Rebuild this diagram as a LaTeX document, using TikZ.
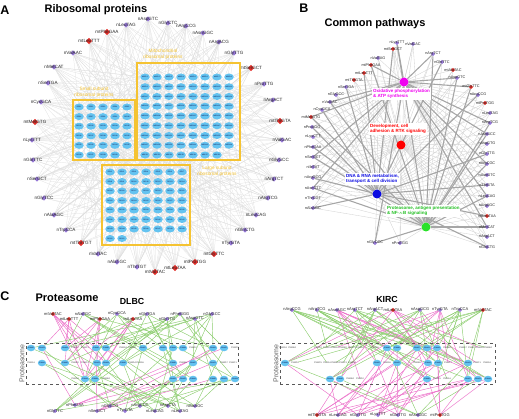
\documentclass[tikz,border=0pt]{standalone}
\usepackage{fontspec}
\setmainfont{Liberation Sans}
\usetikzlibrary{positioning,shapes.geometric,backgrounds}
\definecolor{codpurple}{RGB}{150,120,215}
\definecolor{codred}{RGB}{225,45,40}
\definecolor{geneblue}{RGB}{100,195,240}
\definecolor{boxgold}{RGB}{245,195,50}
\definecolor{hubmag}{RGB}{240,0,240}
\definecolor{hubblue}{RGB}{10,10,225}
\definecolor{hubgreen}{RGB}{40,225,40}
\definecolor{lgreen}{RGB}{140,205,110}
\definecolor{lpink}{RGB}{235,110,200}
\newcommand{\psmnames}{{"PSMA1","PSMB2","PSMC3","PSMD4","PSMA5","PSMB6","PSMD7","PSMC1","PSMA3","PSMB4","PSMD2","PSMC5"}}

\begin{document}
\begin{tikzpicture}[x=1pt,y=-1pt,
  plab/.style={font=\fontsize{12.5}{13}\selectfont\bfseries,inner sep=0pt},
  ttl/.style={font=\fontsize{11}{12}\selectfont\bfseries,inner sep=0pt},
  stl/.style={font=\fontsize{8.8}{9}\selectfont\bfseries,inner sep=0pt},
  codp/.style={diamond,fill=codpurple,inner sep=0pt,minimum size=5.5pt},
  codr/.style={diamond,fill=codred,inner sep=0pt,minimum size=6.5pt},
  clab/.style={inner sep=0pt,text=black!85,font=\fontsize{4.6}{5}\selectfont},
  blab/.style={clab,font=\fontsize{3.8}{4}\selectfont},
  dlab/.style={clab,font=\fontsize{4}{4.5}\selectfont},
  gene/.style={ellipse,fill=geneblue,inner sep=0pt,minimum width=9.5pt,minimum height=7pt,text=blue!25!black,font=\fontsize{1.7}{2}\selectfont},
  gtxt/.style={inner sep=0pt,text=black!75,font=\fontsize{2.2}{2.5}\selectfont},
  ybox/.style={draw=boxgold,line width=1.1pt},
  ytxt/.style={text=boxgold,align=center,inner sep=0pt,font=\fontsize{4.8}{5.6}\selectfont},
  hub/.style={circle,inner sep=0pt,minimum size=9pt},
  hlab/.style={fill=white,align=left,anchor=north west,inner sep=0.8pt,font=\fontsize{4.5}{5.6}\selectfont\bfseries},
  aedge/.style={gray!26,line width=0.25pt},
  bthin/.style={gray!35,line width=0.35pt},
  bthick/.style={gray!70,line width=1.1pt},
  gline/.style={lgreen,line width=0.45pt},
  pline/.style={lpink,line width=0.45pt},
  cbox/.style={draw=gray!70!black,dashed,line width=0.6pt,inner sep=0pt},
  cside/.style={rotate=90,text=gray!75!black,inner sep=0pt,font=\fontsize{7}{7}\selectfont}
]
\useasboundingbox (0,0) rectangle (519,419);

% A
\node[plab] (pa) at (5,10) {A};
\node[ttl] (ta) at (96,10) {Ribosomal proteins};

\foreach \nm/\x/\y/\s [count=\k] in {nAspGTC/148/19/codp,nGlyCTC/168/23/codp,nArgCCG/186/26/codp,nAsnGGC/203/33/codp,
  nArgACG/219/42/codp,nGlyTTG/234/53/codp,mtSerGCT/251/68/codr,nProTTG/264/84/codp,nArgACT/273/100/codp,
  mtThrGTA/280/121/codr,nValGAC/282/140/codp,nGlyGCC/279/160/codp,nArgTCT/274/179/codp,nArgTCG/268/198/codp,
  nLeuCAG/256/215/codp,nGlnCTG/245/230/codp,nTyrGTA/231/243/codp,mtGlyTTC/214/254/codr,mtProTGG/195/262/codr,
  mtLeuTAA/175/268/codr,mtValTAC/155/272/codr,nThrTGT/137/267/codp,nAlaTGC/117/262/codp,nValTAC/98/254/codp,
  mtThrTGT/81/243/codr,nTrpCCA/66/230/codp,nAlaAGC/54/215/codp,nGlyTCC/44/198/codp,nSerGCT/37/179/codp,
  nGlnTTC/33/160/codp,nLysTTT/32/140/codp,mtMetGTG/35/122/codr,nCysGCA/41/102/codp,nSerTGA/48/83/codp,
  nMetCAT/54/67/codp,nValAAC/73/53/codp,mtLeuTTT/89/41/codr,mtPheGAA/107/32/codr,nLeuTAG/126/25/codp}
  \node[\s,label={[clab]center:\nm}] (a\k) at (\x,\y) {};

\foreach \i in {0,...,7} \foreach \j in {0,...,7}
  \node[gene] (m\i-\j) at (145+12*\i,77+9.75*\j) {MRPL\the\numexpr\j*8+\i+1\relax};
\foreach \i in {0,...,6} \node[gene] (m\i-8) at (145+12*\i,155) {MRPS\the\numexpr\i+2\relax};
\foreach \i in {0,...,4} \foreach \j in {0,...,4}
  \node[gene] (s\i-\j) at (79+12*\i,107+9.6*\j) {RPS\the\numexpr\j*5+\i+1\relax};
\foreach \i in {0,...,3} \node[gene] (s\i-5) at (79+12*\i,155) {RPS\the\numexpr\i+26\relax};
\foreach \i in {0,...,6} \foreach \j in {0,...,6}
  \node[gene] (l\i-\j) at (110+12*\i,172+9.5*\j) {RPL\the\numexpr\j*7+\i+1\relax};
\foreach \i in {0,1} \node[gene] (l\i-7) at (110+12*\i,238.5) {RPL\the\numexpr\i+50\relax};

\draw[ybox] (137,63) rectangle (240,160);
\draw[ybox] (73,100) rectangle (135,160);
\draw[ybox] (102,165) rectangle (190,245);
\node[ytxt] (tm) at (163,54) {Mitochondrial\\ribosomal proteins};
\node[ytxt] (ts) at (94,92) {Small subunit\\ribosomal proteins};
\node[ytxt] (tl) at (217,171) {Large subunit\\ribosomal proteins};

% B
\node[plab] (pb) at (304,8) {B};
\node[ttl] (tb) at (375,24) {Common pathways};

\foreach \nm/\x/\y/\s [count=\k] in {nLysTTT/397/43/codp,nValCAC/413/44/codp,mtSerGCT/393/49/codr,nArgTCT/433/54/codp,
  nValTAG/378/58/codp,nGlnTTC/442/62/codp,mtPheGAA/371/65/codr,mtAlaTAC/453/70/codr,mtLeuTTT/364/73/codr,
  nAspGTC/457/78/codp,mtThrGTA/354/80/codr,nSerTGA/346/87/codp,mtGlyTTC/471/87/codr,nGlyGCC/336/95/codp,
  nArgCCG/478/95/codp,nValAAC/330/102/codp,mtProTGG/485/103/codr,nCysGCA/322/110/codp,mtMetGTG/311/117/codr,
  nLeuTAG/490/113/codp,nProAGG/312/127/codp,nArgTCG/490/123/codp,
  nLysCTT/313/137/codp,nPheGAA/313/147/codp,nSerGCT/313/157/codp,nIleTAT/313/167/codp,nArgGCG/313/178/codp,
  nAsnGTT/313/188/codp,nThrCGT/313/198/codp,nAlaAGC/313/208/codp,
  nAsnGCC/487/134/codp,nAspGTG/487/144/codp,nGlyTTG/487/154/codp,nArgCGC/487/164/codp,nAsnGTC/487/175/codp,
  nThrGTA/487/185/codp,nLeuCAG/487/196/codp,nArgAGC/487/206/codp,mtLeuTAA/487/216/codr,nMetCAT/487/227/codp,
  nArgACT/487/237/codp,nGlnCTG/487/247/codp,nGlyCCC/375/243/codp,nProTGG/400/243/codp}
  \node[\s,minimum size=4.5pt,label={[blab]center:\nm}] (b\k) at (\x,\y) {};

\node[hub,fill=hubmag] (hm) at (404,82) {};
\node[hub,fill=red] (hr) at (401,145) {};
\node[hub,fill=hubblue] (hb) at (377,194) {};
\node[hub,fill=hubgreen] (hg) at (426,227) {};
\node[hlab,text=hubmag] (lm) at (372,88) {Oxidative phosphorylation\\\& ATP synthesis};
\node[hlab,text=red] (lr) at (369,123) {Development, cell\\adhesion \& RTK signaling};
\node[hlab,text=hubblue] (lb) at (345,173) {DNA \& RNA metabolism,\\transport \& cell division};
\node[hlab,text=hubgreen!85!black] (lg) at (386,205) {Proteasome, antigen presentation\\\& NF-$\kappa$B signaling};

% C
\node[plab] (pc) at (5,296) {C};
\node[ttl] (tc) at (67,298) {Proteasome};
\node[stl] (sd) at (132,301) {DLBC};
\node[stl] (sk) at (387,299) {KIRC};
\node[cbox,minimum width=212pt,minimum height=41pt] (dbox) at (132,363.5) {};
\node[cside] (dside) at (22,363.5) {Proteasome};
\node[cbox,minimum width=215pt,minimum height=41pt] (kbox) at (387.5,363.5) {};
\node[cside] (kside) at (276,363.5) {Proteasome};

\foreach \x/\y [count=\k] in {31/348,42/348,65/348,96/348,106/348,143/348,163/348,173/348,183/348,213/348,224/348,
  42/363,65/363,97/363,106/363,123/363,173/363,193/363,213/363,
  85/379,95/379,173/379,183/379,193/379,213/379,224/379,235/379} {
  \pgfmathparse{\psmnames[mod(\k,12)]}\edef\gn{\pgfmathresult}
  \node[gene,minimum width=8.5pt,minimum height=6.5pt] (dg\k) at (\x,\y) {\gn};
}
\foreach \x/\y [count=\k] in {75/348,85/348,123/348,132/348,193/348,235/348,31/363,75/363,85/363,132/363,
  140/363,183/363,224/363,233/363,75/379,106/379} {
  \pgfmathparse{\psmnames[mod(\k+5,12)]}\edef\gn{\pgfmathresult}
  \node[gtxt] (dl\k) at (\x,\y) {\gn};
}
\foreach \x/\y [count=\k] in {387/348,397/348,417/348,427/348,437/348,285/363,377/363,397/363,428/363,438/363,468/363,
  330/379,340/379,427/379,468/379,478/379,488/379} {
  \pgfmathparse{\psmnames[mod(\k+3,12)]}\edef\gn{\pgfmathresult}
  \node[gene,minimum width=8.5pt,minimum height=6.5pt] (kg\k) at (\x,\y) {\gn};
}
\foreach \x/\y [count=\k] in {283/348,292/348,318/348,327/348,335/348,343/348,352/348,360/348,375/348,447/348,
  463/348,472/348,480/348,488/348,295/363,318/363,327/363,335/363,343/363,352/363,387/363,417/363,448/363,
  477/363,487/363,350/379,360/379,437/379,447/379} {
  \pgfmathparse{\psmnames[mod(\k+7,12)]}\edef\gn{\pgfmathresult}
  \node[gtxt] (kl\k) at (\x,\y) {\gn};
}

\foreach \nm/\x/\y/\s [count=\k] in {mtValTAC/53/314/codr,mtLeuTTT/69/319/codr,nAlaTGC/83/314/codp,mtPheGAA/100/319/codr,
  nCysGCA/117/314/codp,mtLeuTAA/133/319/codr,nGlyTGA/147/314/codp,nGlyTTG/167/319/codp,nPheGGG/180/314/codp,
  nAspGTC/195/319/codp,nGlyGCC/212/314/codp}
  \node[\s,minimum size=4.5pt,label={[dlab]center:\nm}] (dt\k) at (\x,\y) {};
\foreach \nm/\x/\y/\s [count=\k] in {nPheGAA/75/405/codp,nGlyTTC/55/411/codp,nSerGCT/97/411/codp,nGlyGTG/110/406/codp,
  nTyrGTA/125/411/codp,nArgCCC/140/406/codp,nLeuCAG/155/411/codp,nArgCTA/168/406/codp,nLeuTAG/180/411/codp,
  nAlaAGC/195/406/codp}
  \node[\s,minimum size=4.5pt,label={[dlab]center:\nm}] (db\k) at (\x,\y) {};
\foreach \nm/\x/\y/\s [count=\k] in {nArgCCG/292/310/codp,nArgTCG/317/310/codp,nAsnAGC/337/310/codp,nArgTCT/355/310/codp,
  nArgACT/375/310/codp,mtLeuTAA/393/310/codr,nAspGCG/420/310/codp,nTyrGTA/440/310/codp,nTrpCCA/460/310/codp,
  mtValTAC/483/310/codr}
  \node[\s,minimum size=4.5pt,label={[dlab]center:\nm}] (kt\k) at (\x,\y) {};
\foreach \nm/\x/\y/\s [count=\k] in {mtThrGTA/317/415/codr,nLeuCAG/338/415/codp,nGlyTTG/358/415/codp,nLysTTT/378/415/codp,
  nGlnTTG/398/415/codp,nAsnGGC/418/415/codp,mtProTGG/440/415/codr}
  \node[\s,minimum size=4.5pt,label={[dlab]center:\nm}] (kb\k) at (\x,\y) {};

\begin{pgfonlayer}{background}
\foreach \k in {1,...,39} {
  \foreach \s in {1,...,6} {
    \pgfmathtruncatemacro\ci{mod(\k*3+\s*5,8)}
    \pgfmathtruncatemacro\cj{mod(\k*5+\s*3,8)}
    \draw[aedge] (a\k) -- (m\ci-\cj);
  }
  \foreach \s in {1,...,3} {
    \pgfmathtruncatemacro\ci{mod(\k+\s*2,5)}
    \pgfmathtruncatemacro\cj{mod(\k*3+\s,5)}
    \draw[aedge] (a\k) -- (s\ci-\cj);
  }
  \foreach \s in {1,...,4} {
    \pgfmathtruncatemacro\ci{mod(\k*3+\s*3,7)}
    \pgfmathtruncatemacro\cj{mod(\k*2+\s*5,7)}
    \draw[aedge] (a\k) -- (l\ci-\cj);
  }
}
\foreach \k in {1,...,44} \foreach \h [count=\n] in {hm,hr,hb,hg} {
  \pgfmathtruncatemacro\t{mod(\k*(\n+1)+\n,3)}
  \ifnum\t>0 \draw[bthin] (b\k) -- (\h);\fi
}
\foreach \k in {1,...,44} \foreach \h [count=\n] in {hm,hr,hb,hg} {
  \pgfmathtruncatemacro\t{mod(\k*(\n+1)+\n,3)}
  \ifnum\t=0 \draw[bthick] (b\k) -- (\h);\fi
}
\foreach \k in {1,2,4,6}
  \foreach \s in {1,...,5} {
    \pgfmathtruncatemacro\g{{3,4,5,13,14,15,16,20,21,2}[mod(\k*2+\s*3,10)]}
    \draw[pline] (dt\k) -- (dg\g);
  }
\foreach \k in {3,5,7,8,9,10,11}
  \foreach \s in {1,...,5} {
    \pgfmathtruncatemacro\g{mod(\k*5+\s*7,27)+1}
    \draw[gline] (dt\k) -- (dg\g);
  }
\foreach \k/\c in {1/pline,2/gline,3/pline,4/gline,5/gline,6/gline,7/gline,8/gline,9/gline,10/gline}
  \foreach \s in {1,...,4} {
    \pgfmathtruncatemacro\g{mod(\k*4+\s*6,27)+1}
    \draw[\c] (db\k) -- (dg\g);
  }
\foreach \k/\c in {1/gline,2/gline,3/pline,4/gline,5/gline,6/pline,7/gline,8/pline,9/gline,10/gline} {
  \foreach \s in {1,...,5} {
    \pgfmathtruncatemacro\g{mod(\k*3+\s*7,17)+1}
    \draw[\c] (kt\k) -- (kg\g);
  }
  \foreach \s in {1,2} {
    \pgfmathtruncatemacro\g{mod(\k*5+\s*11,29)+1}
    \draw[\c] (kt\k) -- (kl\g);
  }
}
\foreach \k/\c in {1/pline,2/pline,3/pline,4/pline,5/pline,6/gline,7/pline}
  \foreach \s in {1,...,5} {
    \pgfmathtruncatemacro\g{mod(\k*4+\s*5,17)+1}
    \draw[\c] (kb\k) -- (kg\g);
  }
\end{pgfonlayer}
\end{tikzpicture}
\end{document}
